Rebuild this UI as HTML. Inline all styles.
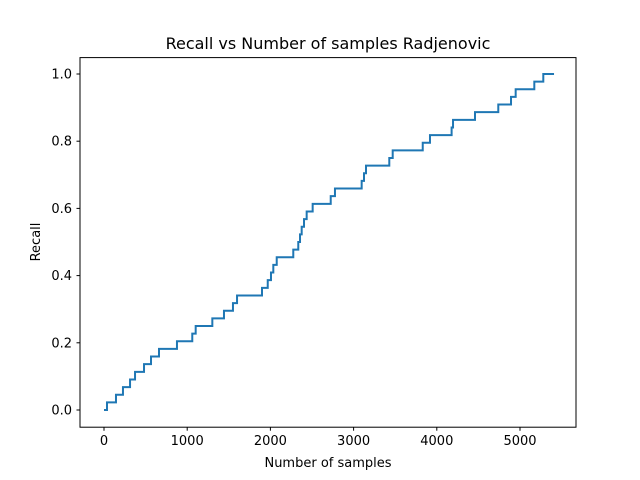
<!DOCTYPE html>
<html><head><meta charset="utf-8"><style>
body{margin:0;background:#fff;}
svg{display:block;font-family:"DejaVu Sans","Liberation Sans",sans-serif;}
</style></head><body>
<svg id="chart" width="640" height="480" viewBox="0 0 640 480">
<rect width="640" height="480" fill="#fff"/>
<text x="328" y="49" font-size="16" text-anchor="middle">Recall vs Number of samples Radjenovic</text>
<g id="plot"></g>
<rect x="80" y="57.6" width="496" height="369.6" fill="none" stroke="#000" stroke-width="1"/>
<text x="328" y="467" font-size="13" text-anchor="middle">Number of samples</text>
<text x="0" y="0" font-size="13" text-anchor="middle" transform="translate(40,242) rotate(-90)">Recall</text>
</svg>
<script>
const stepSamples=[0,36,144,228,313,373,481,565,661,877,1061,1102,1302,1442,1550,1599,1899,1968,2007,2035,2076,2275,2335,2356,2376,2404,2436,2508,2725,2776,3097,3125,3149,3429,3470,3831,3918,4178,4195,4459,4739,4892,4948,5172,5280];
const endSample=5409;
const totalRelevant=44;
const xTicks=[0,1000,2000,3000,4000,5000];
const yTicks=[0.0,0.2,0.4,0.6,0.8,1.0];
const NS='http://www.w3.org/2000/svg';
const xs=v=>104+v*0.0832;
const ys=v=>410-v*336;
const g=document.getElementById('plot');
function mk(t,a){const e=document.createElementNS(NS,t);for(const k in a)e.setAttribute(k,a[k]);return e;}
xTicks.forEach(t=>{
 const l=mk('line',{x1:xs(t),x2:xs(t),y1:427.2,y2:430.7,stroke:'#000'});
 
 
 g.appendChild(l);
 const tx=mk('text',{x:xs(t),y:445,'font-size':13,'text-anchor':'middle'});
 tx.textContent=t;
 
 
 g.appendChild(tx);
});
yTicks.forEach(t=>{
 const l=mk('line',{x1:76.5,x2:80,y1:ys(t),y2:ys(t),stroke:'#000'});
 
 
 g.appendChild(l);
 const tx=mk('text',{x:72,y:ys(t)+4.5,'font-size':13,'text-anchor':'end'});
 tx.textContent=t.toFixed(1);
 
 
 g.appendChild(tx);
});
let d='';
stepSamples.forEach((s,i)=>{
 const r=i/totalRelevant;
 if(i===0)d+='M'+xs(s)+','+ys(r);
 else d+='L'+xs(s)+','+ys((i-1)/totalRelevant)+'L'+xs(s)+','+ys(r);
});
d+='L'+xs(endSample)+','+ys((stepSamples.length-1)/totalRelevant);
const p=mk('path',{d:d,fill:'none',stroke:'#1f77b4','stroke-width':2,'stroke-linejoin':'miter'});


g.appendChild(p);
</script>
</body></html>
